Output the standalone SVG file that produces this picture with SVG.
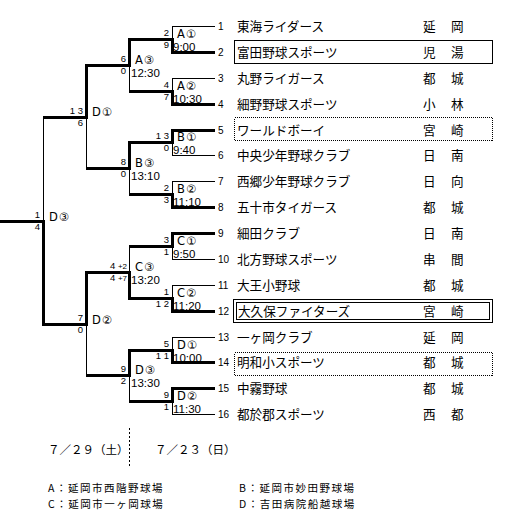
<svg xmlns="http://www.w3.org/2000/svg" width="511" height="521" viewBox="0 0 511 521">
<style>
.bg{fill:#fff}
.thin{fill:none;stroke:#000;stroke-width:1}
.thick{fill:none;stroke:#000;stroke-width:3;stroke-linejoin:miter}
.num{font-family:"Liberation Sans",Arial,sans-serif;font-size:10px;fill:#000}
.name{font-family:"Noto Sans CJK JP","Noto Sans",sans-serif;font-size:12.6px;fill:#000}
.city{font-family:"Noto Sans CJK JP","Noto Sans",sans-serif;font-size:12.6px;fill:#000;word-spacing:12.6px}
.lbl{font-family:"DejaVu Sans","Noto Sans CJK JP",sans-serif;font-size:11.5px;fill:#000;letter-spacing:1px}
.time{font-family:"Liberation Sans",Arial,sans-serif;font-size:11.5px;fill:#000}
.sc{font-family:"Liberation Sans",Arial,sans-serif;font-size:9.5px;fill:#000;text-anchor:end}
.sm{font-size:8px}
.box{fill:none;stroke:#000;stroke-width:1}
.dot{fill:none;stroke:#000;stroke-width:1;stroke-dasharray:1,1}
.foot{font-family:"Noto Sans CJK JP","Noto Sans",sans-serif;font-size:11.5px;fill:#000}
.leg{font-family:"Noto Sans CJK JP","Noto Sans",sans-serif;font-size:10.5px;fill:#000;letter-spacing:1.5px}
</style>
<rect class="bg" x="0" y="0" width="511" height="521"/>

<g id="connectors" shape-rendering="crispEdges">
<path class="thin" d="M172,26H215M172,52H215M172,78H215M172,104H215M172,130H215M172,155H215M172,181H215M172,207H215M172,233H215M172,259H215M172,285H215M172,311H215M172,337H215M172,362H215M172,388H215M172,414H215
M172,26V52M172,78V104M172,130V155M172,181V207M172,233V259M172,285V311M172,337V362M172,388V414
M129,39H172M129,91H172M129,142H172M129,194H172M129,246H172M129,298H172M129,350H172M129,401H172
M129,39V91M129,142V194M129,246V298M129,350V401
M86,65H129M86,168H129M86,272H129M86,375H129
M86,65V168M86,272V375
M43,117H86M43,324H86
M43,117V324M0,221H43"/>
<path class="thick" d="M215,52H172V39H129V65H86V117H43"/>
<path class="thick" d="M215,104H172V91H129"/>
<path class="thick" d="M215,130H172V142H129V168H86"/>
<path class="thick" d="M215,207H172V194H129"/>
<path class="thick" d="M215,233H172V246H129"/>
<path class="thick" d="M215,311H172V298H129V272H86V324H43V221H0"/>
<path class="thick" d="M215,362H172V350H129V375H86"/>
<path class="thick" d="M215,388H172V401H129"/>
<path class="thin" d="M129,428V466" stroke-dasharray="2,2"/>
</g>

<g id="t1"><text class="num" x="218" y="29.5">1</text><text class="name" x="237" y="30.5">東海ライダース</text><text class="city" x="423" y="30.5">延 岡</text></g>
<g id="t2"><rect class="box" x="234.5" y="40.5" width="258" height="23"/><text class="num" x="218" y="55.5">2</text><text class="name" x="237" y="56.5">富田野球スポーツ</text><text class="city" x="423" y="56.5">児 湯</text></g>
<g id="t3"><text class="num" x="218" y="81.5">3</text><text class="name" x="237" y="82.5">丸野ライガース</text><text class="city" x="423" y="82.5">都 城</text></g>
<g id="t4"><text class="num" x="218" y="107.5">4</text><text class="name" x="237" y="108.5">細野野球スポーツ</text><text class="city" x="423" y="108.5">小 林</text></g>
<g id="t5"><rect class="dot" x="234.5" y="117.5" width="258" height="23" shape-rendering="crispEdges"/><text class="num" x="218" y="133.5">5</text><text class="name" x="237" y="134.5">ワールドボーイ</text><text class="city" x="423" y="134.5">宮 崎</text></g>
<g id="t6"><text class="num" x="218" y="158.5">6</text><text class="name" x="237" y="159.5">中央少年野球クラブ</text><text class="city" x="423" y="159.5">日 南</text></g>
<g id="t7"><text class="num" x="218" y="184.5">7</text><text class="name" x="237" y="185.5">西郷少年野球クラブ</text><text class="city" x="423" y="185.5">日 向</text></g>
<g id="t8"><text class="num" x="218" y="210.5">8</text><text class="name" x="237" y="211.5">五十市タイガース</text><text class="city" x="423" y="211.5">都 城</text></g>
<g id="t9"><text class="num" x="218" y="236.5">9</text><text class="name" x="237" y="237.5">細田クラブ</text><text class="city" x="423" y="237.5">日 南</text></g>
<g id="t10"><text class="num" x="218" y="262.5">10</text><text class="name" x="237" y="263.5">北方野球スポーツ</text><text class="city" x="423" y="263.5">串 間</text></g>
<g id="t11"><text class="num" x="218" y="288.5">11</text><text class="name" x="237" y="289.5">大王小野球</text><text class="city" x="423" y="289.5">都 城</text></g>
<g id="t12"><rect class="box" x="233.5" y="299.5" width="259" height="23"/><rect class="box" x="236.5" y="302.5" width="253" height="17"/><text class="num" x="218" y="314.5">12</text><text class="name" x="238" y="315.5">大久保ファイターズ</text><text class="city" x="423" y="315.5">宮 崎</text></g>
<g id="t13"><text class="num" x="218" y="340.5">13</text><text class="name" x="237" y="341.5">一ヶ岡クラブ</text><text class="city" x="423" y="341.5">延 岡</text></g>
<g id="t14"><rect class="dot" x="234.5" y="352.5" width="258" height="23" shape-rendering="crispEdges"/><text class="num" x="218" y="365.5">14</text><text class="name" x="237" y="366.5">明和小スポーツ</text><text class="city" x="423" y="366.5">都 城</text></g>
<g id="t15"><text class="num" x="218" y="391.5">15</text><text class="name" x="237" y="392.5">中霧野球</text><text class="city" x="423" y="392.5">都 城</text></g>
<g id="t16"><text class="num" x="218" y="417.5">16</text><text class="name" x="237" y="418.5">都於郡スポーツ</text><text class="city" x="423" y="418.5">西 都</text></g>

<g id="mA1"><text class="lbl" x="177" y="38">A①</text><text class="time" x="173" y="51">9:00</text><text class="sc" x="169" y="36">2</text><text class="sc" x="169" y="48">9</text></g>
<g id="mA2"><text class="lbl" x="177" y="90">A②</text><text class="time" x="173" y="103">10:30</text><text class="sc" x="169" y="88">4</text><text class="sc" x="169" y="100">7</text></g>
<g id="mB1"><text class="lbl" x="177" y="141">B①</text><text class="time" x="173" y="154">9:40</text><text class="sc" x="169" y="139">1 3</text><text class="sc" x="169" y="151">0</text></g>
<g id="mB2"><text class="lbl" x="177" y="193">B②</text><text class="time" x="173" y="206">11:10</text><text class="sc" x="169" y="191">2</text><text class="sc" x="169" y="203">3</text></g>
<g id="mC1"><text class="lbl" x="177" y="245">C①</text><text class="time" x="173" y="258">9:50</text><text class="sc" x="169" y="243">3</text><text class="sc" x="169" y="255">1</text></g>
<g id="mC2"><text class="lbl" x="177" y="297">C②</text><text class="time" x="173" y="310">11:20</text><text class="sc" x="169" y="295">1</text><text class="sc" x="169" y="307">1 2</text></g>
<g id="mD1a"><text class="lbl" x="177" y="349">D①</text><text class="time" x="173" y="362">10:00</text><text class="sc" x="169" y="347">5</text><text class="sc" x="169" y="359">1 1</text></g>
<g id="mD2a"><text class="lbl" x="177" y="400">D②</text><text class="time" x="173" y="413">11:30</text><text class="sc" x="169" y="398">9</text><text class="sc" x="169" y="410">1</text></g>

<g id="mA3"><text class="lbl" x="135" y="64">A③</text><text class="time" x="131" y="77">12:30</text><text class="sc" x="126" y="62">6</text><text class="sc" x="126" y="74">0</text></g>
<g id="mB3"><text class="lbl" x="135" y="167">B③</text><text class="time" x="131" y="180">13:10</text><text class="sc" x="126" y="165">8</text><text class="sc" x="126" y="177">0</text></g>
<g id="mC3"><text class="lbl" x="135" y="271">C③</text><text class="time" x="131" y="284">13:20</text><text class="sc" x="127" y="269">4 <tspan class="sm">+2</tspan></text><text class="sc" x="127" y="281">4 <tspan class="sm">+7</tspan></text></g>
<g id="mD3a"><text class="lbl" x="135" y="374">D③</text><text class="time" x="131" y="387">13:30</text><text class="sc" x="126" y="372">9</text><text class="sc" x="126" y="384">2</text></g>

<g id="mD1b"><text class="lbl" x="92" y="116">D①</text><text class="sc" x="83" y="114">1 3</text><text class="sc" x="83" y="126">6</text></g>
<g id="mD2b"><text class="lbl" x="92" y="324">D②</text><text class="sc" x="83" y="321">7</text><text class="sc" x="83" y="333">0</text></g>
<g id="mFinal"><text class="lbl" x="49" y="221">D③</text><text class="sc" x="40" y="218">1</text><text class="sc" x="40" y="230">4</text></g>

<g id="dates"><text class="foot" x="48" y="454">７／２９（土）</text><text class="foot" x="155" y="454">７／２３（日）</text></g>
<g id="legend">
<text class="leg" x="48" y="492">A：延岡市西階野球場</text>
<text class="leg" x="48" y="507.5">C：延岡市一ヶ岡球場</text>
<text class="leg" x="239" y="492">B：延岡市妙田野球場</text>
<text class="leg" x="239" y="507.5">D：吉田病院船越球場</text>
</g>
</svg>
